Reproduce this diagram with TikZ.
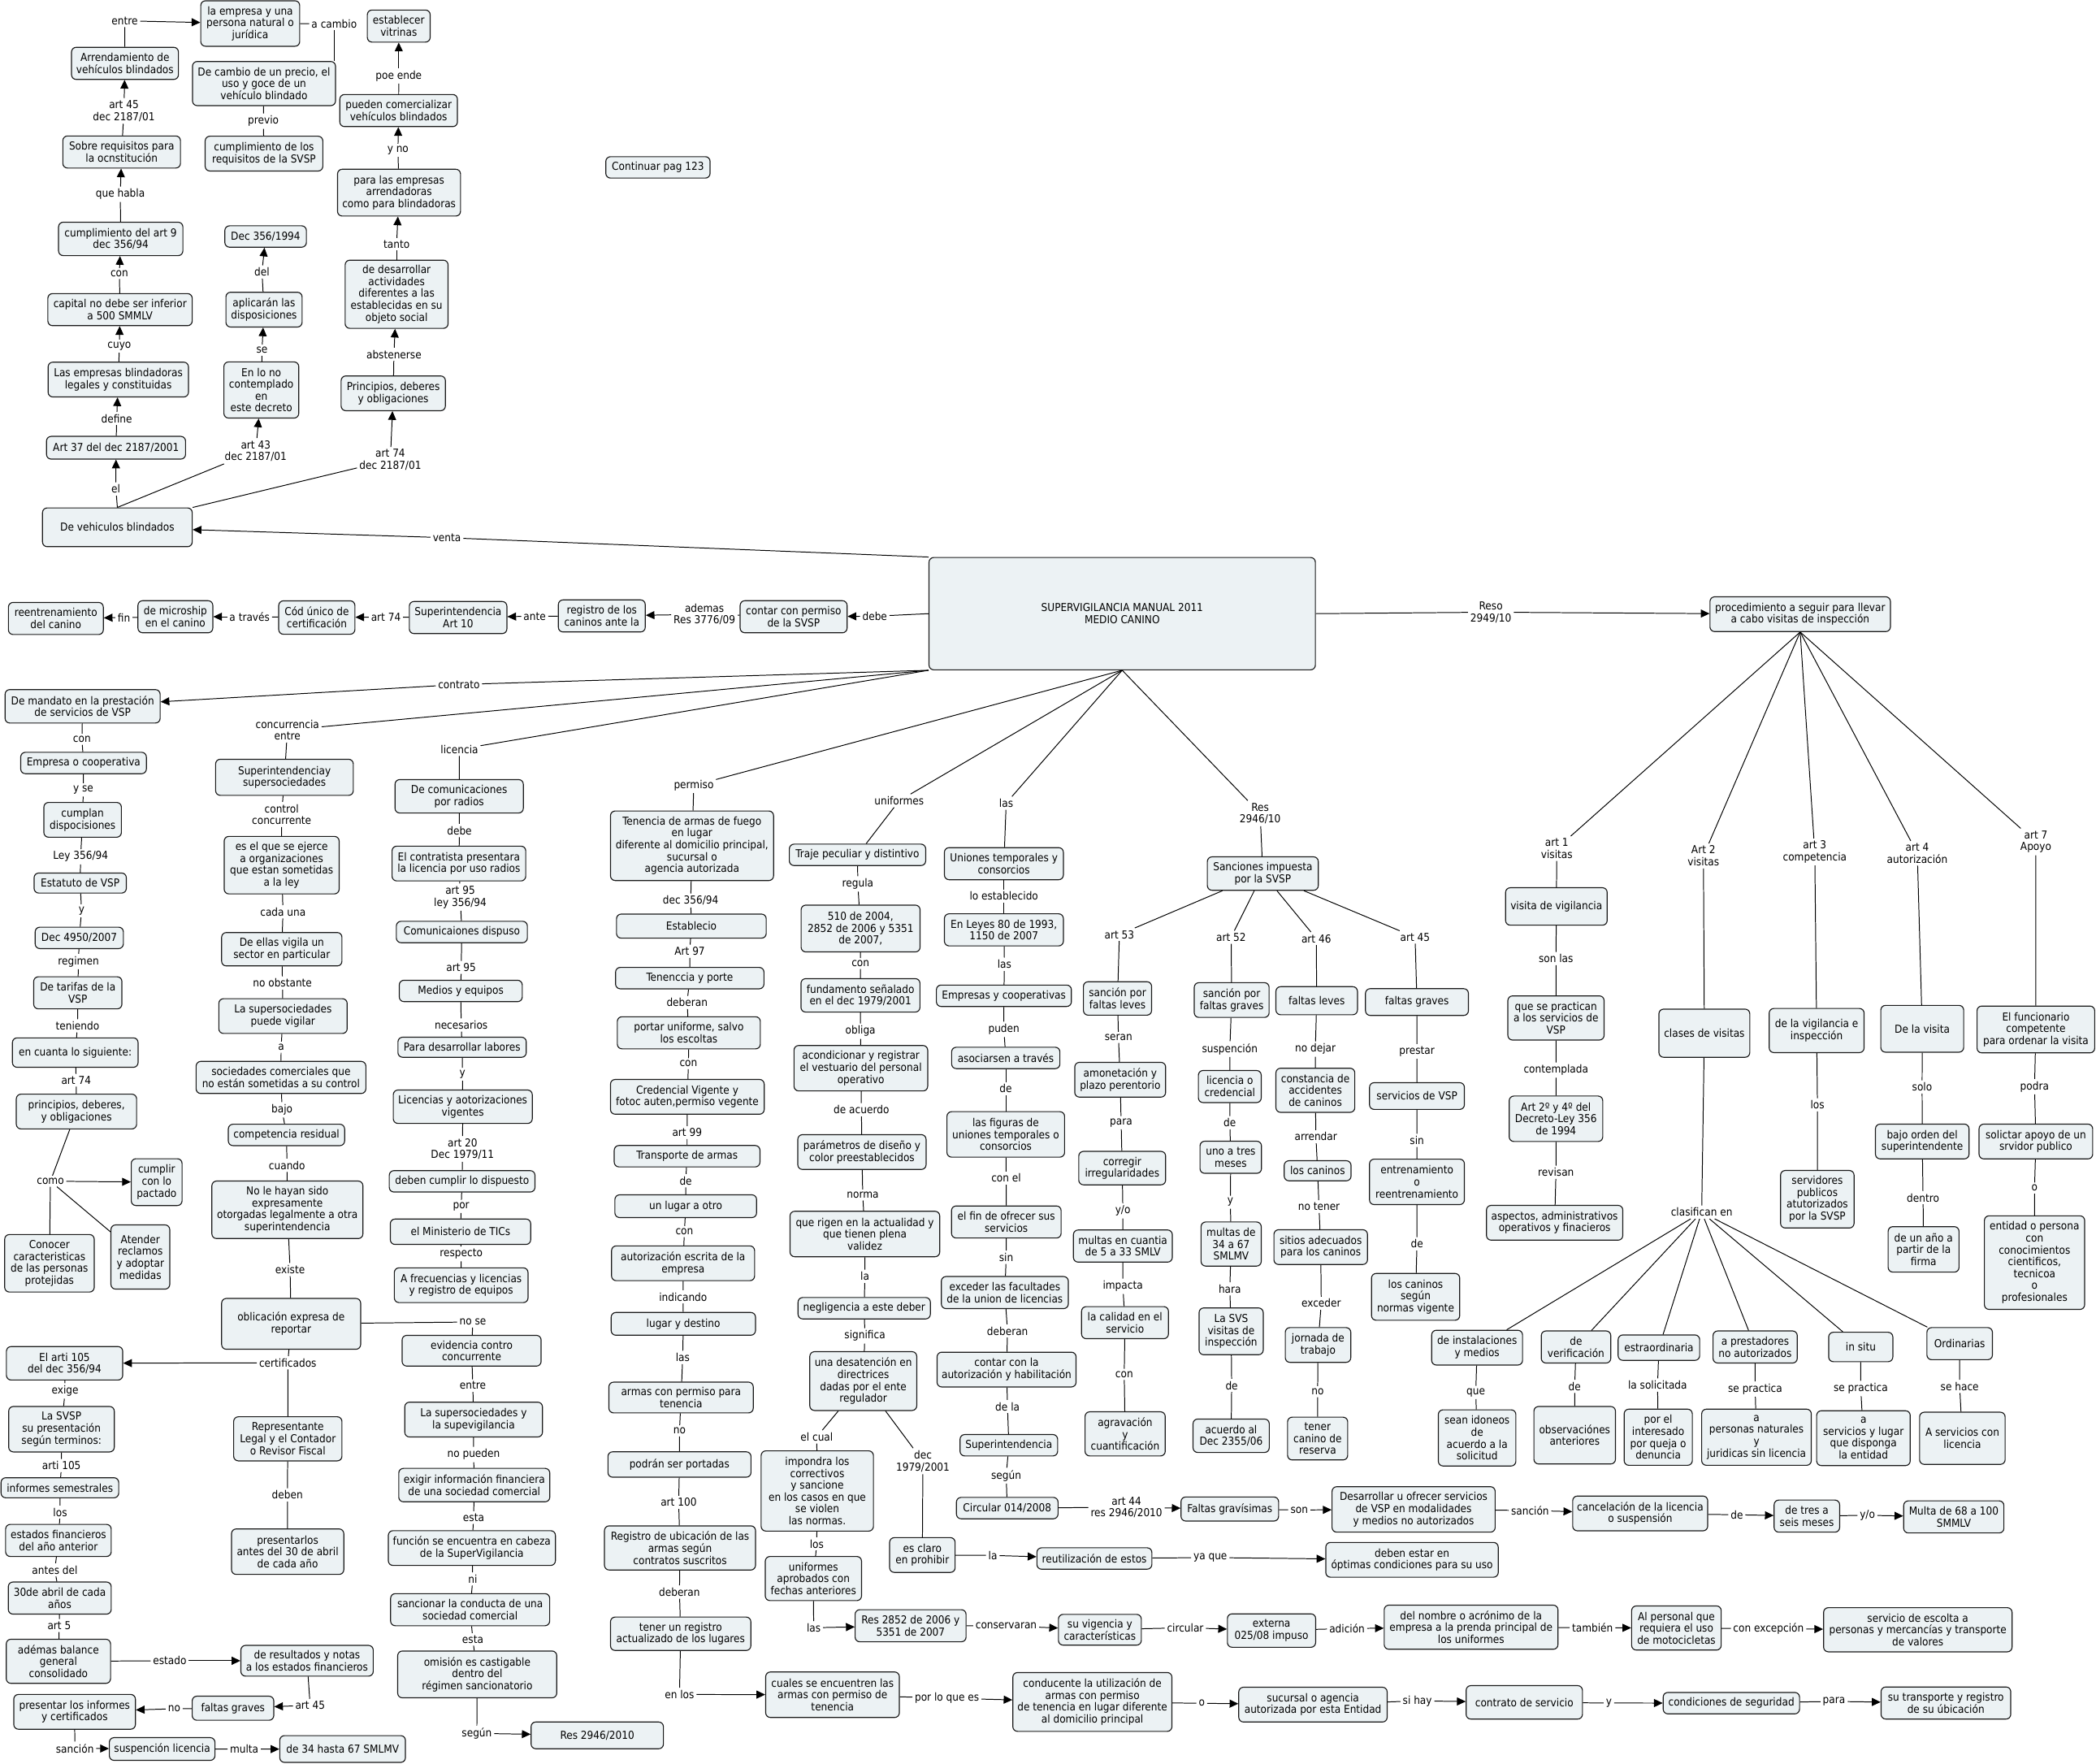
\documentclass[tikz,border=0pt]{standalone}
\usepackage{fontspec}
\setmainfont{DejaVu Sans Condensed}
\usetikzlibrary{arrows.meta}
\definecolor{cfill}{HTML}{ECF2F4}
\definecolor{cline}{HTML}{1A1A1A}

\begin{document}
\begin{tikzpicture}[
    x=1pt, y=-1pt,
    font=\fontsize{8.2}{8.9}\selectfont,
    line width=0.6pt,
    % estilos
    cpt/.style 2 args={rectangle, rounded corners=3.5pt, draw=cline, line width=0.7pt, fill=cfill, align=center, inner xsep=2.5pt, inner ysep=2pt, minimum width=#1pt, minimum height=#2pt},
    lnk/.style={inner sep=1.5pt, align=center},
    ar/.style={-{Triangle[length=6.5pt,width=6pt]}}
]
\fill[white] (0,0) rectangle (1568,1319);
\useasboundingbox (0,0) rectangle (1568,1319);

% --- bloque superior izquierdo ---
\node (empresa) [cpt={74}{34}] at (187.2,17.6) {la empresa y una\\persona natural o\\jurídica};
\node (arrend) [cpt={80}{24}] at (93.5,47.4) {Arrendamiento de\\vehículos blindados};
\node (decambio) [cpt={107}{33}] at (197.5,62.5) {De cambio de un precio, el\\uso y goce de un\\vehículo blindado};
\node (cumplsvsp) [cpt={88}{26}] at (197.5,114.9) {cumplimiento de los\\requisitos de la SVSP};
\node (vitrinas) [cpt={47}{24}] at (298.3,19.5) {establecer\\vitrinas};
\node (pueden) [cpt={88}{24}] at (298.2,82.7) {pueden comercializar\\vehículos blindados};
\node (paraemp) [cpt={92}{35}] at (298.5,144.1) {para las empresas\\arrendadoras\\como para blindadoras};
\node (desarr) [cpt={77}{51}] at (296.7,220.1) {de desarrollar\\actividades\\diferentes a las\\establecidas en su\\objeto social};
\node (princ) [cpt={78}{26}] at (294.2,294.2) {Principios, deberes\\y obligaciones};
\node (contin) [cpt={78}{16}] at (492.2,125.2) {Continuar pag 123};
\node (sobrereq) [cpt={88}{24}] at (91,113.7) {Sobre requisitos para\\la ocnstitución};
\node (cumpl9) [cpt={93}{25}] at (90.3,178.7) {cumplimiento del art 9\\dec 356/94};
\node (capital) [cpt={108}{24}] at (89.8,231.6) {capital no debe ser inferior\\a 500 SMMLV};
\node (empblind) [cpt={105}{26}] at (88.5,283.9) {Las empresas blindadoras\\legales y constituidas};
\node (art37) [cpt={104}{17}] at (86.8,334.9) {Art 37 del dec 2187/2001};
\node (vblind) [cpt={112}{29}] at (87.8,394.4) {De vehiculos blindados};
\node (dec356) [cpt={61}{16}] at (198.7,176.9) {Dec 356/1994};
\node (aplicar) [cpt={57}{26}] at (197.5,231.6) {aplicarán las\\disposiciones};
\node (enlono) [cpt={56}{42}] at (195.5,291.7) {En lo no\\contemplado\\en\\este decreto};

\node (lentre) [lnk] at (93.3,15.6) {entre};
\node (lcambio) [lnk] at (250,17.8) {a cambio};
\node (lprevio) [lnk] at (197,90.6) {previo};
\node (lpoe) [lnk] at (298.3,56.7) {poe ende};
\node (lyno) [lnk] at (297.7,112.4) {y no};
\node (ltanto) [lnk] at (296.7,182.7) {tanto};
\node (labst) [lnk] at (294.7,265) {abstenerse};
\node (lart74a) [lnk] at (292,344) {art 74\\dec 2187/01};
\node (lart45a) [lnk] at (92.7,83) {art 45\\dec 2187/01};
\node (lhabla) [lnk] at (90,145.3) {que habla};
\node (lcon1) [lnk] at (89.3,204.6) {con};
\node (lcuyo) [lnk] at (89.3,258.9) {cuyo};
\node (ldefine) [lnk] at (87.3,313) {define};
\node (lel) [lnk] at (86.7,365.8) {el};
\node (lart43) [lnk] at (191.3,337.3) {art 43\\dec 2187/01};
\node (lse) [lnk] at (196,261.9) {se};
\node (ldel) [lnk] at (196,203.4) {del};
\node (lventa) [lnk] at (334.3,402.2) {venta};

\draw (arrend) -- (lentre); \draw [ar] (lentre) -- (empresa);
\draw (empresa) -- (lcambio); \draw (lcambio) -- (lcambio |- decambio.north);
\draw (decambio) -- (lprevio); \draw (lprevio) -- (cumplsvsp);
\draw (sobrereq) -- (lart45a); \draw [ar] (lart45a) -- (arrend);
\draw (cumpl9) -- (lhabla); \draw [ar] (lhabla) -- (sobrereq);
\draw (capital) -- (lcon1); \draw [ar] (lcon1) -- (cumpl9);
\draw (empblind) -- (lcuyo); \draw [ar] (lcuyo) -- (capital);
\draw (art37) -- (ldefine); \draw [ar] (ldefine) -- (empblind);
\draw (vblind.north) -- (lel); \draw [ar] (lel) -- (art37);
\draw (vblind.north) -- (lart43); \draw [ar] (lart43) -- (enlono);
\draw (vblind.north east) -- (lart74a); \draw [ar] (lart74a) -- (princ);
\draw (enlono) -- (lse); \draw [ar] (lse) -- (aplicar);
\draw (aplicar) -- (ldel); \draw [ar] (ldel) -- (dec356);
\draw (princ) -- (labst); \draw [ar] (labst) -- (desarr);
\draw (desarr) -- (ltanto); \draw [ar] (ltanto) -- (paraemp);
\draw (paraemp) -- (lyno); \draw [ar] (lyno) -- (pueden);
\draw (pueden) -- (lpoe); \draw [ar] (lpoe) -- (vitrinas);

% --- concepto central ---
\node (main) [cpt={289}{84}] at (839.5,459) {SUPERVIGILANCIA MANUAL 2011\\MEDIO CANINO};

% --- fila del registro canino ---
\node (permsvsp) [cpt={80}{24}] at (593.7,461.3) {contar con permiso\\de la SVSP};
\node (regcan) [cpt={65}{24}] at (450.2,460.7) {registro de los\\caninos ante la};
\node (super10) [cpt={73}{24}] at (342.7,461.9) {Superintendencia\\Art 10};
\node (codigo) [cpt={57}{25}] at (237,461.9) {Cód único de\\certificación};
\node (micro) [cpt={56}{24}] at (131.2,461.3) {de microship\\en el canino};
\node (reentr) [cpt={71}{24}] at (41.8,462.6) {reentrenamiento\\del canino};
\node (ldebe) [lnk] at (654.4,460.9) {debe};
\node (ladem) [lnk] at (527,459.5) {ademas\\Res 3776/09};
\node (lante) [lnk] at (400,460.9) {ante};
\node (lart74b) [lnk] at (288.7,461.5) {art 74};
\node (latrav) [lnk] at (186.7,461.3) {a través};
\node (lfin) [lnk] at (92.7,461.9) {fin};

\draw (main.north west) -- (lventa); \draw [ar] (lventa) -- (vblind);
\draw (main.west) -- (ldebe); \draw [ar] (ldebe) -- (permsvsp);
\draw (permsvsp) -- (ladem); \draw [ar] (ladem) -- (regcan);
\draw (regcan) -- (lante); \draw [ar] (lante) -- (super10);
\draw (super10) -- (lart74b); \draw [ar] (lart74b) -- (codigo);
\draw (codigo) -- (latrav); \draw [ar] (latrav) -- (micro);
\draw (micro) -- (lfin); \draw [ar] (lfin) -- (reentr);

% --- contrato ---
\node (lcontrato) [lnk] at (343.3,512) {contrato};
\node (mandato) [cpt={116}{25}] at (61.8,528.3) {De mandato en la prestación\\de servicios de VSP};
\node (empcoop) [cpt={94}{16}] at (62.5,570.7) {Empresa o cooperativa};
\node (cumplan) [cpt={58}{26}] at (61.8,613.2) {cumplan\\dispocisiones};
\node (estatuto) [cpt={69}{15}] at (60,660.5) {Estatuto de VSP};
\node (dec4950) [cpt={66}{16}] at (59.3,701.5) {Dec 4950/2007};
\node (tarifas) [cpt={66}{24}] at (58.2,742.6) {De tarifas de la\\VSP};
\node (encuanta) [cpt={94}{22}] at (56.3,787.3) {en cuanta lo siguiente:};
\node (princ2) [cpt={90}{26}] at (57.2,831.4) {principios, deberes,\\y obligaciones};
\node (cumplir) [cpt={38}{35}] at (117.2,884.2) {cumplir\\con lo\\pactado};
\node (conocer) [cpt={67}{43}] at (37,944.9) {Conocer\\caracteristicas\\de las personas\\protejidas};
\node (atender) [cpt={44}{48}] at (105,940.2) {Atender\\reclamos\\y adoptar\\medidas};
\node (lcon2) [lnk] at (61.3,553) {con};
\node (lyse) [lnk] at (62.3,590.8) {y se};
\node (lley) [lnk] at (60.3,640.8) {Ley 356/94};
\node (ly1) [lnk] at (61,681.3) {y};
\node (lregimen) [lnk] at (58.7,719.2) {regimen};
\node (lteniendo) [lnk] at (58,767.3) {teniendo};
\node (lart74c) [lnk] at (57,808) {art 74};
\node (lcomo) [lnk] at (37.7,883.5) {como};

\draw (main.south west) -- (lcontrato); \draw [ar] (lcontrato) -- (mandato);
\draw (mandato) -- (lcon2) -- (empcoop);
\draw (empcoop) -- (lyse) -- (cumplan);
\draw (cumplan) -- (lley) -- (estatuto);
\draw (estatuto) -- (ly1) -- (dec4950);
\draw (dec4950) -- (lregimen) -- (tarifas);
\draw (tarifas) -- (lteniendo) -- (encuanta);
\draw (encuanta) -- (lart74c) -- (princ2);
\draw (princ2) -- (lcomo); \draw [ar] (lcomo) -- (cumplir);
\draw (lcomo) -- (conocer); \draw (lcomo) -- (atender);

% --- concurrencia entre superintendencias ---
\node (lconc) [lnk] at (215,546) {concurrencia\\entre};
\node (supersoc) [cpt={103}{27}] at (212.8,581.4) {Superintendenciay\\supersociedades};
\node (esel) [cpt={86}{43}] at (210.7,647.1) {es el que se ejerce\\a organizaciones\\que estan sometidas\\a la ley};
\node (ellas) [cpt={90}{25}] at (210.8,710) {De ellas vigila un\\sector en particular};
\node (lasuper) [cpt={96}{26}] at (211.7,760) {La supersociedades\\puede vigilar};
\node (soccom) [cpt={127}{24}] at (210.2,805.9) {sociedades comerciales que\\no están sometidas a su control};
\node (compres) [cpt={87}{16}] at (214.3,848.9) {competencia residual};
\node (nolehay) [cpt={113}{43}] at (215,904.9) {No le hayan sido\\expresamente\\otorgadas legalmente a otra\\superintendencia};
\node (oblig) [cpt={104}{38}] at (217.8,990.2) {oblicación expresa de\\reportar};
\node (repres) [cpt={81}{33}] at (215.3,1076.2) {Representante\\Legal y el Contador\\o Revisor Fiscal};
\node (present) [cpt={84}{34}] at (215.2,1160.6) {presentarlos\\antes del 30 de abril\\de cada año};
\node (lcontrol) [lnk] at (210.7,609.2) {control\\concurrente};
\node (lcada) [lnk] at (211.7,682) {cada una};
\node (lnoobst) [lnk] at (211.3,735.3) {no obstante};
\node (la1) [lnk] at (210.3,783.2) {a};
\node (lbajo) [lnk] at (211,830.1) {bajo};
\node (lcuando) [lnk] at (214.7,871.6) {cuando};
\node (lexiste) [lnk] at (217,949.6) {existe};
\node (lcert) [lnk] at (215.3,1019.3) {certificados};
\node (ldeben) [lnk] at (215,1118.2) {deben};
\node (lnose) [lnk] at (353.7,988.8) {no se};

\draw (main.south west) -- (lconc); \draw (lconc) -- (supersoc);
\draw (supersoc) -- (lcontrol) -- (esel);
\draw (esel) -- (lcada) -- (ellas);
\draw (ellas) -- (lnoobst) -- (lasuper);
\draw (lasuper) -- (la1) -- (soccom);
\draw (soccom) -- (lbajo) -- (compres);
\draw (compres) -- (lcuando) -- (nolehay);
\draw (nolehay) -- (lexiste) -- (oblig);
\draw (oblig) -- (lcert) -- (repres);
\draw (repres) -- (ldeben) -- (present);
\draw (oblig) -- (lnose);

% --- informes a la SVSP ---
\node (arti105) [cpt={87}{25}] at (48.3,1019.7) {El arti 105\\del dec 356/94};
\node (svsp) [cpt={79}{34}] at (46,1069) {La SVSP\\su presentación\\según terminos:};
\node (informes) [cpt={88}{15}] at (44.8,1112.8) {informes semestrales};
\node (estados) [cpt={79}{24}] at (43.7,1152.2) {estados financieros\\del año anterior};
\node (abril) [cpt={77}{24}] at (44.7,1195.3) {30de abril de cada\\años};
\node (ademas) [cpt={78}{33}] at (43.7,1242.6) {adémas balance\\general\\consolidado};
\node (result) [cpt={99}{23}] at (229.7,1242.2) {de resultados y notas\\a los estados financieros};
\node (faltasg) [cpt={61}{18}] at (174.3,1277.7) {faltas graves};
\node (presinf) [cpt={91}{26}] at (55.8,1280.4) {presentar los informes\\y certificados};
\node (susplic) [cpt={79}{17}] at (121.3,1308.2) {suspención licencia};
\node (de34) [cpt={94}{20}] at (256.3,1308.2) {de 34 hasta 67 SMLMV};
\node (lexige) [lnk] at (48.7,1040.4) {exige};
\node (larti105) [lnk] at (46,1096.2) {arti 105};
\node (llos1) [lnk] at (45,1131) {los};
\node (lantes) [lnk] at (41,1174.2) {antes del};
\node (lart5) [lnk] at (44.3,1215.9) {art 5};
\node (lestado) [lnk] at (127,1242.2) {estado};
\node (lart45b) [lnk] at (232,1275.5) {art 45};
\node (lno1) [lnk] at (130.3,1278.1) {no};
\node (lsancion) [lnk] at (56,1307.7) {sanción};
\node (lmulta) [lnk] at (182.7,1308.3) {multa};

\draw [ar] (lcert) -- (arti105);
\draw (arti105) -- (lexige) -- (svsp);
\draw (svsp) -- (larti105) -- (informes);
\draw (informes) -- (llos1) -- (estados);
\draw (estados) -- (lantes) -- (abril);
\draw (abril) -- (lart5) -- (ademas);
\draw (ademas) -- (lestado); \draw [ar] (lestado) -- (result);
\draw (result) -- (lart45b); \draw [ar] (lart45b) -- (faltasg);
\draw (faltasg) -- (lno1); \draw [ar] (lno1) -- (presinf);
\draw (presinf) -- (lsancion); \draw [ar] (lsancion) -- (susplic);
\draw (susplic) -- (lmulta); \draw [ar] (lmulta) -- (de34);

% --- licencia de comunicaciones ---
\node (llic) [lnk] at (343.7,560.4) {licencia};
\node (comradio) [cpt={96}{25}] at (343.5,595.6) {De comunicaciones\\por radios};
\node (contrat) [cpt={100}{26}] at (343.3,645.9) {El contratista presentara\\la licencia por uso radios};
\node (comdisp) [cpt={98}{16}] at (345.5,697.1) {Comunicaiones dispuso};
\node (medios) [cpt={92}{16}] at (344.7,741.2) {Medios y equipos};
\node (paradesa) [cpt={96}{15}] at (345.7,783.3) {Para desarrollar labores};
\node (licenc) [cpt={104}{25}] at (346.2,827.8) {Licencias y aotorizaciones\\vigentes};
\node (debencum) [cpt={109}{16}] at (345.7,883.6) {deben cumplir lo dispuesto};
\node (minist) [cpt={105}{19}] at (344.5,921.3) {el Ministerio de TICs};
\node (frecuen) [cpt={100}{26}] at (345,961.3) {A frecuencias y licencias\\y registro de equipos};
\node (evid) [cpt={104}{23}] at (352.8,1010.3) {evidencia contro\\concurrente};
\node (supvig) [cpt={103}{26}] at (354.3,1061.8) {La supersociedades y\\la supevigilancia};
\node (exigir) [cpt={113}{25}] at (354.8,1110.8) {exigir información financiera\\de una sociedad comercial};
\node (funcion) [cpt={125}{26}] at (353,1157.9) {función se encuentra en cabeza\\de la SuperVigilancia};
\node (sancion) [cpt={119}{24}] at (351.7,1204) {sancionar la conducta de una\\sociedad comercial};
\node (omision) [cpt={119}{35}] at (357,1252.4) {omisión es castigable\\dentro del\\régimen sancionatorio};
\node (res2010) [cpt={99}{20}] at (446.8,1298) {Res 2946/2010};
\node (ldebe2) [lnk] at (343.7,621.2) {debe};
\node (lart95a) [lnk] at (344.3,671) {art 95\\ley 356/94};
\node (lart95b) [lnk] at (345,723.6) {art 95};
\node (lnec) [lnk] at (345,766.7) {necesarios};
\node (ly2) [lnk] at (346,803.5) {y};
\node (lart20) [lnk] at (346,859.4) {art 20\\Dec 1979/11};
\node (lpor) [lnk] at (345,902.3) {por};
\node (lresp) [lnk] at (345,937.9) {respecto};
\node (lentre2) [lnk] at (353.7,1036.4) {entre};
\node (lnopued) [lnk] at (354.3,1087.9) {no pueden};
\node (lesta1) [lnk] at (354.3,1135.1) {esta};
\node (lni) [lnk] at (353.7,1181) {ni};
\node (lesta2) [lnk] at (353.7,1226.2) {esta};
\node (lsegun1) [lnk] at (356.7,1296.5) {según};

\draw (main.south west) -- (llic); \draw (llic) -- (comradio);
\draw (comradio) -- (ldebe2) -- (contrat);
\draw (contrat) -- (lart95a) -- (comdisp);
\draw (comdisp) -- (lart95b) -- (medios);
\draw (medios) -- (lnec) -- (paradesa);
\draw (paradesa) -- (ly2) -- (licenc);
\draw (licenc) -- (lart20) -- (debencum);
\draw (debencum) -- (lpor) -- (minist);
\draw (minist) -- (lresp) -- (frecuen);
\draw (lnose) -- (evid);
\draw (evid) -- (lentre2) -- (supvig);
\draw (supvig) -- (lnopued) -- (exigir);
\draw (exigir) -- (lesta1) -- (funcion);
\draw (funcion) -- (lni) -- (sancion);
\draw (sancion) -- (lesta2) -- (omision);
\draw (omision) -- (lsegun1); \draw [ar] (lsegun1) -- (res2010);

% --- permiso de tenencia ---
\node (lpermiso) [lnk] at (519,587.5) {permiso};
\node (tenencia) [cpt={122}{52}] at (517.7,632.6) {Tenencia de armas de fuego\\en lugar\\diferente al domicilio principal,\\sucursal o\\agencia autorizada};
\node (establ) [cpt={112}{18}] at (517.2,692.7) {Establecio};
\node (tenporte) [cpt={111}{16}] at (516,731.6) {Tenenccia y porte};
\node (portar) [cpt={107}{24}] at (515.3,772.5) {portar uniforme, salvo\\los escoltas};
\node (credenc) [cpt={115}{26}] at (514.2,820.4) {Credencial Vigente y\\fotoc auten,permiso vegente};
\node (transp) [cpt={109}{16}] at (514,864.8) {Transporte de armas};
\node (unlugar) [cpt={106}{17}] at (513,902.2) {un lugar a otro};
\node (autoriz) [cpt={107}{26}] at (511,944.9) {autorización escrita de la\\empresa};
\node (lugdest) [cpt={108}{17}] at (511.2,990.2) {lugar y destino};
\node (armasp) [cpt={108}{23}] at (509.5,1045.3) {armas con permiso para\\tenencia};
\node (podran) [cpt={107}{19}] at (508.3,1095.4) {podrán ser portadas};
\node (regubic) [cpt={113}{33}] at (508.7,1157.8) {Registro de ubicación de las\\armas según\\contratos suscritos};
\node (tenerreg) [cpt={105}{25}] at (509.2,1222) {tener un registro\\actualizado de los lugares};
\node (ldec356) [lnk] at (516.7,673.6) {dec 356/94};
\node (lart97) [lnk] at (516,711.5) {Art 97};
\node (ldeber1) [lnk] at (514,749.8) {deberan};
\node (lcon3) [lnk] at (515,795.6) {con};
\node (lart99) [lnk] at (514,847.1) {art 99};
\node (lde1) [lnk] at (513,883.1) {de};
\node (lcon4) [lnk] at (512,921.2) {con};
\node (lindic) [lnk] at (511,970) {indicando};
\node (llas2) [lnk] at (510.7,1015.3) {las};
\node (lno2) [lnk] at (508.3,1070.2) {no};
\node (lart100) [lnk] at (507.7,1123.7) {art 100};
\node (ldeber2) [lnk] at (508.3,1190.8) {deberan};
\node (lenlos) [lnk] at (508.3,1267.4) {en los};

\draw (main.south) -- (lpermiso); \draw (lpermiso) -- (tenencia);
\draw (tenencia) -- (ldec356) -- (establ);
\draw (establ) -- (lart97) -- (tenporte);
\draw (tenporte) -- (ldeber1) -- (portar);
\draw (portar) -- (lcon3) -- (credenc);
\draw (credenc) -- (lart99) -- (transp);
\draw (transp) -- (lde1) -- (unlugar);
\draw (unlugar) -- (lcon4) -- (autoriz);
\draw (autoriz) -- (lindic) -- (lugdest);
\draw (lugdest) -- (llas2) -- (armasp);
\draw (armasp) -- (lno2) -- (podran);
\draw (podran) -- (lart100) -- (regubic);
\draw (regubic) -- (ldeber2) -- (tenerreg);
\draw (tenerreg) -- (lenlos);

% --- fila inferior: armas ---
\node (cuales) [cpt={100}{34}] at (622.8,1267.6) {cuales se encuentren las\\armas con permiso de\\tenencia};
\node (conduc) [cpt={119}{44}] at (817.2,1273) {conducente la utilización de\\armas con permiso\\de tenencia en lugar diferente\\al domicilio principal};
\node (sucursal) [cpt={111}{26}] at (982.2,1275) {sucursal o agencia\\autorizada por esta Entidad};
\node (contrato) [cpt={87}{25}] at (1140.3,1273.3) {contrato de servicio};
\node (condic) [cpt={102}{16}] at (1295.2,1273.9) {condiciones de seguridad};
\node (sutransp) [cpt={97}{24}] at (1455.7,1273.8) {su transporte y registro\\de su úbicación};
\node (lporque) [lnk] at (708.4,1270.2) {por lo que es};
\node (lo1) [lnk] at (899,1274) {o};
\node (lsihay) [lnk] at (1060.3,1272.2) {si hay};
\node (ly3) [lnk] at (1203.6,1273.8) {y};
\node (lpara1) [lnk] at (1372,1272.6) {para};

\draw [ar] (lenlos) -- (cuales);
\draw (cuales) -- (lporque); \draw [ar] (lporque) -- (conduc);
\draw (conduc) -- (lo1); \draw [ar] (lo1) -- (sucursal);
\draw (sucursal) -- (lsihay); \draw [ar] (lsihay) -- (contrato);
\draw (contrato) -- (ly3); \draw [ar] (ly3) -- (condic);
\draw (condic) -- (lpara1); \draw [ar] (lpara1) -- (sutransp);

% --- uniformes ---
\node (lunif) [lnk] at (672.7,598.9) {uniformes};
\node (traje) [cpt={102}{16}] at (641.5,639.4) {Traje peculiar y distintivo};
\node (d510) [cpt={89}{35}] at (643.8,694.5) {510 de 2004,\\2852 de 2006 y 5351\\de 2007,};
\node (fundam) [cpt={89}{25}] at (643.7,744.5) {fundamento señalado\\en el dec 1979/2001};
\node (acond) [cpt={100}{34}] at (644,799) {acondicionar y registrar\\el vestuario del personal\\operativo};
\node (param) [cpt={96}{26}] at (644.8,861.7) {parámetros de diseño y\\color preestablecidos};
\node (querig) [cpt={112}{34}] at (647,923) {que rigen en la actualidad y\\que tienen plena\\validez};
\node (neglig) [cpt={99}{16}] at (646.5,978.5) {negligencia a este deber};
\node (desat) [cpt={80}{44}] at (645.8,1033) {una desatención en\\directrices\\dadas por el ente\\regulador};
\node (impond) [cpt={84}{60}] at (611.4,1115.2) {impondra los\\correctivos\\y sancione\\en los casos en que\\se violen\\las normas.};
\node (unifap) [cpt={72}{33}] at (608.5,1180.7) {uniformes\\aprobados con\\fechas anteriores};
\node (esclaro) [cpt={49}{26}] at (690,1163.1) {es claro\\en prohibir};
\node (reutil) [cpt={86}{16}] at (818.7,1165.7) {reutilización de estos};
\node (debenest) [cpt={129}{26}] at (1056.3,1166.7) {deben estar en\\óptimas condiciones para su uso};
\node (res2852) [cpt={83}{24}] at (681.2,1216) {Res 2852 de 2006 y\\5351 de 2007};
\node (vigencia) [cpt={62}{23}] at (822.8,1219) {su vigencia y\\características};
\node (externa) [cpt={66}{25}] at (951.2,1219.6) {externa\\025/08 impuso};
\node (nombre) [cpt={130}{33}] at (1100.5,1217.1) {del nombre o acrónimo de la\\empresa a la prenda principal de\\los uniformes};
\node (alpers) [cpt={67}{33}] at (1254.1,1217.7) {Al personal que\\requiera el uso\\de motocicletas};
\node (escolta) [cpt={141}{33}] at (1434.7,1219) {servicio de escolta a\\personas y mercancías y transporte\\de valores};
\node (lregula) [lnk] at (641.7,661.1) {regula};
\node (lcon5) [lnk] at (643.7,720.7) {con};
\node (lobliga) [lnk] at (643.7,771.3) {obliga};
\node (ldeacu) [lnk] at (644.4,830.1) {de acuerdo};
\node (lnorma) [lnk] at (645.4,893.8) {norma};
\node (lla1) [lnk] at (647,954.7) {la};
\node (lsignif) [lnk] at (647,999.2) {significa};
\node (lelcual) [lnk] at (611,1074.7) {el cual};
\node (ldec1979) [lnk] at (690.4,1092.9) {dec\\1979/2001};
\node (llos2) [lnk] at (611,1154.7) {los};
\node (lla2) [lnk] at (742.7,1163.4) {la};
\node (lyaque) [lnk] at (905.4,1165) {ya que};
\node (llas3) [lnk] at (608.7,1217.5) {las};
\node (lconserv) [lnk] at (752.7,1216.1) {conservaran};
\node (lcircular) [lnk] at (886.7,1217.5) {circular};
\node (ladicion) [lnk] at (1007.7,1218.1) {adición};
\node (ltambien) [lnk] at (1191.3,1217.5) {también};
\node (lconexc) [lnk] at (1323,1218.3) {con excepción};

\draw (main.south) -- (lunif); \draw (lunif) -- (traje);
\draw (traje) -- (lregula) -- (d510);
\draw (d510) -- (lcon5) -- (fundam);
\draw (fundam) -- (lobliga) -- (acond);
\draw (acond) -- (ldeacu) -- (param);
\draw (param) -- (lnorma) -- (querig);
\draw (querig) -- (lla1) -- (neglig);
\draw (neglig) -- (lsignif) -- (desat);
\draw (desat) -- (lelcual) -- (impond);
\draw (impond) -- (llos2) -- (unifap);
\draw (desat) -- (ldec1979) -- (esclaro);
\draw (esclaro) -- (lla2); \draw [ar] (lla2) -- (reutil);
\draw (reutil) -- (lyaque); \draw [ar] (lyaque) -- (debenest);
\draw (unifap) -- (llas3); \draw [ar] (llas3) -- (res2852);
\draw (res2852) -- (lconserv); \draw [ar] (lconserv) -- (vigencia);
\draw (vigencia) -- (lcircular); \draw [ar] (lcircular) -- (externa);
\draw (externa) -- (ladicion); \draw [ar] (ladicion) -- (nombre);
\draw (nombre) -- (ltambien); \draw [ar] (ltambien) -- (alpers);
\draw (alpers) -- (lconexc); \draw [ar] (lconexc) -- (escolta);

% --- uniones temporales ---
\node (llas) [lnk] at (752.7,600.7) {las};
\node (uniones) [cpt={89}{24}] at (751,646) {Uniones temporales y\\consorcios};
\node (leyes) [cpt={89}{24}] at (751,695.5) {En Leyes 80 de 1993,\\1150 de 2007};
\node (empcoop2) [cpt={101}{16}] at (751,744.8) {Empresas y cooperativas};
\node (asoc) [cpt={81}{16}] at (752.4,791.3) {asociarsen a través};
\node (figuras) [cpt={88}{34}] at (752.4,848.5) {las figuras de\\uniones temporales o\\consorcios};
\node (elfin) [cpt={82}{24}] at (752.8,914) {el fin de ofrecer sus\\servicios};
\node (exced) [cpt={95}{24}] at (751.7,966.8) {exceder las facultades\\de la union de licencias};
\node (contarcon) [cpt={104}{26}] at (753,1024.4) {contar con la\\autorización y habilitación};
\node (superint) [cpt={73}{16}] at (754.7,1081) {Superintendencia};
\node (circul) [cpt={76}{16}] at (753.5,1128) {Circular 014/2008};
\node (faltgrav) [cpt={73}{18}] at (920,1128.7) {Faltas gravísimas};
\node (desarr2) [cpt={122}{34}] at (1057.5,1129) {Desarrollar u ofrecer servicios\\de VSP en modalidades\\y medios no autorizados};
\node (cancel) [cpt={101}{26}] at (1227,1132) {cancelación de la licencia\\o suspensión};
\node (tresseis) [cpt={49}{24}] at (1351.7,1134) {de tres a\\seis meses};
\node (multa68) [cpt={75}{24}] at (1461.6,1134.6) {Multa de 68 a 100\\SMMLV};
\node (lloest) [lnk] at (751,670.2) {lo establecido};
\node (llas4) [lnk] at (751.4,721.3) {las};
\node (lpuden) [lnk] at (751,770) {puden};
\node (lde2) [lnk] at (752.4,814.2) {de};
\node (lconel) [lnk] at (752.7,881.2) {con el};
\node (lsin1) [lnk] at (752.7,940.4) {sin};
\node (ldeber3) [lnk] at (753.7,995.5) {deberan};
\node (ldela) [lnk] at (753.7,1052) {de la};
\node (lsegun2) [lnk] at (752.7,1103.7) {según};
\node (lart44) [lnk] at (842.7,1127.4) {art 44\\res 2946/2010};
\node (lson) [lnk] at (972,1129.4) {son};
\node (lsanc2) [lnk] at (1144.6,1129.8) {sanción};
\node (lde3) [lnk] at (1299.3,1133) {de};
\node (lyo1) [lnk] at (1397,1133.4) {y/o};

\draw (main.south) -- (llas); \draw (llas) -- (uniones);
\draw (uniones) -- (lloest) -- (leyes);
\draw (leyes) -- (llas4) -- (empcoop2);
\draw (empcoop2) -- (lpuden) -- (asoc);
\draw (asoc) -- (lde2) -- (figuras);
\draw (figuras) -- (lconel) -- (elfin);
\draw (elfin) -- (lsin1) -- (exced);
\draw (exced) -- (ldeber3) -- (contarcon);
\draw (contarcon) -- (ldela) -- (superint);
\draw (superint) -- (lsegun2) -- (circul);
\draw (circul) -- (lart44); \draw [ar] (lart44) -- (faltgrav);
\draw (faltgrav) -- (lson); \draw [ar] (lson) -- (desarr2);
\draw (desarr2) -- (lsanc2); \draw [ar] (lsanc2) -- (cancel);
\draw (cancel) -- (lde3); \draw [ar] (lde3) -- (tresseis);
\draw (tresseis) -- (lyo1); \draw [ar] (lyo1) -- (multa68);

% --- sanciones Res 2946/10 ---
\node (lres) [lnk] at (942.7,608.4) {Res\\2946/10};
\node (sancimp) [cpt={83}{25}] at (944.7,653.4) {Sanciones impuesta\\por la SVSP};
\node (lart53) [lnk] at (837.4,699) {art 53};
\node (lart52) [lnk] at (921,701) {art 52};
\node (lart46) [lnk] at (984.7,702) {art 46};
\node (lart45c) [lnk] at (1058.6,701) {art 45};
\node (sleves) [cpt={51}{25}] at (836,746.8) {sanción por\\faltas leves};
\node (amonet) [cpt={68}{26}] at (838,807.6) {amonetación y\\plazo perentorio};
\node (correg) [cpt={65}{25}] at (839.5,873.7) {corregir\\irregularidades};
\node (multas5) [cpt={74}{24}] at (840,932) {multas en cuantia\\de 5 a 33 SMLV};
\node (calidad) [cpt={65}{24}] at (841.6,989.3) {la calidad en el\\servicio};
\node (agrav) [cpt={60}{33}] at (841.7,1072.5) {agravación\\y\\cuantificación};
\node (sgraves) [cpt={56}{26}] at (921.4,748) {sanción por\\faltas graves};
\node (licred) [cpt={47}{24}] at (920,812.7) {licencia o\\credencial};
\node (unoatres) [cpt={46}{24}] at (920.7,865.6) {uno a tres\\meses};
\node (multas34) [cpt={45}{33}] at (921,930.5) {multas de\\34 a 67\\SMLMV};
\node (lasvs) [cpt={48}{35}] at (921,995.8) {La SVS\\visitas de\\inspección};
\node (acuerdo) [cpt={57}{25}] at (921,1073.9) {acuerdo al\\Dec 2355/06};
\node (fleves) [cpt={61}{21}] at (985,748.5) {faltas leves};
\node (constan) [cpt={59}{33}] at (984,815.5) {constancia de\\accidentes\\de caninos};
\node (loscan) [cpt={50}{15}] at (985.7,875.7) {los caninos};
\node (sitios) [cpt={70}{26}] at (988,932.8) {sitios adecuados\\para los caninos};
\node (jornada) [cpt={49}{26}] at (986,1006) {jornada de\\trabajo};
\node (tenercan) [cpt={45}{32}] at (985.7,1076) {tener\\canino de\\reserva};
\node (fgraves) [cpt={77}{20}] at (1060,749.5) {faltas graves};
\node (servvsp) [cpt={71}{20}] at (1060,819.8) {servicios de VSP};
\node (entren) [cpt={71}{34}] at (1060,884) {entrenamiento\\o\\reentrenamiento};
\node (canseg) [cpt={66}{35}] at (1059,970) {los caninos\\según\\normas vigente};
\node (lseran) [lnk] at (836.7,775.9) {seran};
\node (lpara2) [lnk] at (838.7,839.8) {para};
\node (lyo2) [lnk] at (840,905.7) {y/o};
\node (limpacta) [lnk] at (840,962.2) {impacta};
\node (lcon6) [lnk] at (841,1028) {con};
\node (lsusp) [lnk] at (920,784.7) {suspención};
\node (lde4) [lnk] at (920,839.8) {de};
\node (ly4) [lnk] at (920.4,899.2) {y};
\node (lhara) [lnk] at (920,964) {hara};
\node (lde5) [lnk] at (921.4,1036.2) {de};
\node (lnodejar) [lnk] at (984,784.7) {no dejar};
\node (larrend) [lnk] at (984.4,850.2) {arrendar};
\node (lnotener) [lnk] at (986.7,902.5) {no tener};
\node (lexced) [lnk] at (988.4,974.8) {exceder};
\node (lno3) [lnk] at (985.7,1040.9) {no};
\node (lprestar) [lnk] at (1060,786.4) {prestar};
\node (lsin2) [lnk] at (1060,853) {sin};
\node (lde6) [lnk] at (1060,930.4) {de};

\draw (main.south) -- (lres); \draw (lres) -- (sancimp);
\draw (sancimp) -- (lart53); \draw (sancimp) -- (lart52);
\draw (sancimp) -- (lart46); \draw (sancimp) -- (lart45c);
\draw (lart53) -- (sleves) -- (lseran) -- (amonet) -- (lpara2) -- (correg) -- (lyo2) -- (multas5) -- (limpacta) -- (calidad) -- (lcon6) -- (agrav);
\draw (lart52) -- (sgraves) -- (lsusp) -- (licred) -- (lde4) -- (unoatres) -- (ly4) -- (multas34) -- (lhara) -- (lasvs) -- (lde5) -- (acuerdo);
\draw (lart46) -- (fleves) -- (lnodejar) -- (constan) -- (larrend) -- (loscan) -- (lnotener) -- (sitios) -- (lexced) -- (jornada) -- (lno3) -- (tenercan);
\draw (lart45c) -- (fgraves) -- (lprestar) -- (servvsp) -- (lsin2) -- (entren) -- (lde6) -- (canseg);

% --- visitas de inspeccion ---
\node (lreso) [lnk] at (1115.3,457.9) {Reso\\2949/10};
\node (proc) [cpt={135}{26}] at (1346.7,459.4) {procedimiento a seguir para llevar\\a cabo visitas de inspección};
\node (lart1) [lnk] at (1164.6,634.7) {art 1\\visitas};
\node (lart2) [lnk] at (1274.3,640.2) {Art 2\\visitas};
\node (lart3) [lnk] at (1357.6,637.2) {art 3\\competencia};
\node (lart4) [lnk] at (1434.3,638.2) {art 4\\autorización};
\node (lart7) [lnk] at (1523,629.7) {art 7\\Apoyo};
\node (visita) [cpt={76}{28}] at (1164.3,678) {visita de vigilancia};
\node (quesep) [cpt={72}{33}] at (1164,761.4) {que se practican\\a los servicios de\\VSP};
\node (art2y4) [cpt={70}{34}] at (1164,836.8) {Art 2º y 4º del\\Decreto-Ley 356\\de 1994};
\node (aspect) [cpt={102}{26}] at (1163,914.6) {aspectos, administrativos\\operativos y finacieros};
\node (clases) [cpt={68}{36}] at (1275,772.8) {clases de visitas};
\node (vigil) [cpt={71}{33}] at (1359,770.8) {de la vigilancia e\\inspección};
\node (servid) [cpt={55}{43}] at (1359.5,897) {servidores\\publicos\\atutorizados\\por la SVSP};
\node (delavis) [cpt={62}{35}] at (1438,769.5) {De la visita};
\node (bajoord) [cpt={70}{26}] at (1438,853.8) {bajo orden del\\superintendente};
\node (deunano) [cpt={53}{34}] at (1439,934.5) {de un año a\\partir de la\\firma};
\node (funcio) [cpt={88}{35}] at (1523,770) {El funcionario\\competente\\para ordenar la visita};
\node (solic) [cpt={85}{26}] at (1523,853.8) {solictar apoyo de un\\srvidor publico};
\node (entidad) [cpt={75}{70}] at (1522,944.4) {entidad o persona\\con\\conocimientos\\cientificos,\\tecnicoa\\o\\profesionales};
\node (lsonlas) [lnk] at (1164,717) {son las};
\node (lcontem) [lnk] at (1164,800.4) {contemplada};
\node (lrevisan) [lnk] at (1164,876.8) {revisan};
\node (llos3) [lnk] at (1359.6,826.4) {los};
\node (lsolo) [lnk] at (1437.9,813) {solo};
\node (ldentro) [lnk] at (1438.6,895.8) {dentro};
\node (lpodra) [lnk] at (1522,812.8) {podra};
\node (lo2) [lnk] at (1522,888.7) {o};

\draw (main.east) -- (lreso); \draw [ar] (lreso) -- (proc);
\draw (proc.south) -- (lart1); \draw (proc.south) -- (lart2);
\draw (proc.south) -- (lart3); \draw (proc.south) -- (lart4);
\draw (proc.south) -- (lart7);
\draw (lart1) -- (visita) -- (lsonlas) -- (quesep) -- (lcontem) -- (art2y4) -- (lrevisan) -- (aspect);
\draw (lart3) -- (vigil) -- (llos3) -- (servid);
\draw (lart4) -- (delavis) -- (lsolo) -- (bajoord) -- (ldentro) -- (deunano);
\draw (lart7) -- (funcio) -- (lpodra) -- (solic) -- (lo2) -- (entidad);

% --- clases de visitas ---
\node (lclasif) [lnk] at (1273,906.7) {clasifican en};
\node (instal) [cpt={68}{26}] at (1105,1008) {de instalaciones\\y medios};
\node (verif) [cpt={52}{24}] at (1179,1007.5) {de\\verificación};
\node (extra) [cpt={61}{19}] at (1241,1008) {estraordinaria};
\node (prest) [cpt={63}{24}] at (1313,1007.5) {a prestadores\\no autorizados};
\node (insitu) [cpt={48}{22}] at (1392,1007.5) {in situ};
\node (ordin) [cpt={49}{24}] at (1466,1005) {Ordinarias};
\node (idoneos) [cpt={58}{42}] at (1105,1075.5) {sean idoneos\\de\\acuerdo a la\\solicitud};
\node (observ) [cpt={61}{43}] at (1178,1073.5) {observaciónes\\anteriores};
\node (porel) [cpt={51}{42}] at (1240.5,1075) {por el\\interesado\\por queja o\\denuncia};
\node (apers) [cpt={82}{42}] at (1314,1075) {a\\personas naturales\\y\\juridicas sin licencia};
\node (aserv) [cpt={70}{41}] at (1394,1075.7) {a\\servicios y lugar\\que disponga\\la entidad};
\node (aservl) [cpt={64}{39}] at (1468,1075.8) {A servicios con\\licencia};
\node (lque) [lnk] at (1104,1041.5) {que};
\node (lde7) [lnk] at (1178,1037) {de};
\node (lsolic) [lnk] at (1240,1036) {la solicitada};
\node (lsep1) [lnk] at (1313,1039) {se practica};
\node (lsep2) [lnk] at (1392,1038.6) {se practica};
\node (lsehace) [lnk] at (1466,1037) {se hace};

\draw (lart2) -- (clases) -- (lclasif);
\draw (lclasif) -- (instal); \draw (lclasif) -- (verif);
\draw (lclasif) -- (extra); \draw (lclasif) -- (prest);
\draw (lclasif) -- (insitu); \draw (lclasif) -- (ordin);
\draw (instal) -- (lque) -- (idoneos);
\draw (verif) -- (lde7) -- (observ);
\draw (extra) -- (lsolic) -- (porel);
\draw (prest) -- (lsep1) -- (apers);
\draw (insitu) -- (lsep2) -- (aserv);
\draw (ordin) -- (lsehace) -- (aservl);

\end{tikzpicture}
\end{document}
